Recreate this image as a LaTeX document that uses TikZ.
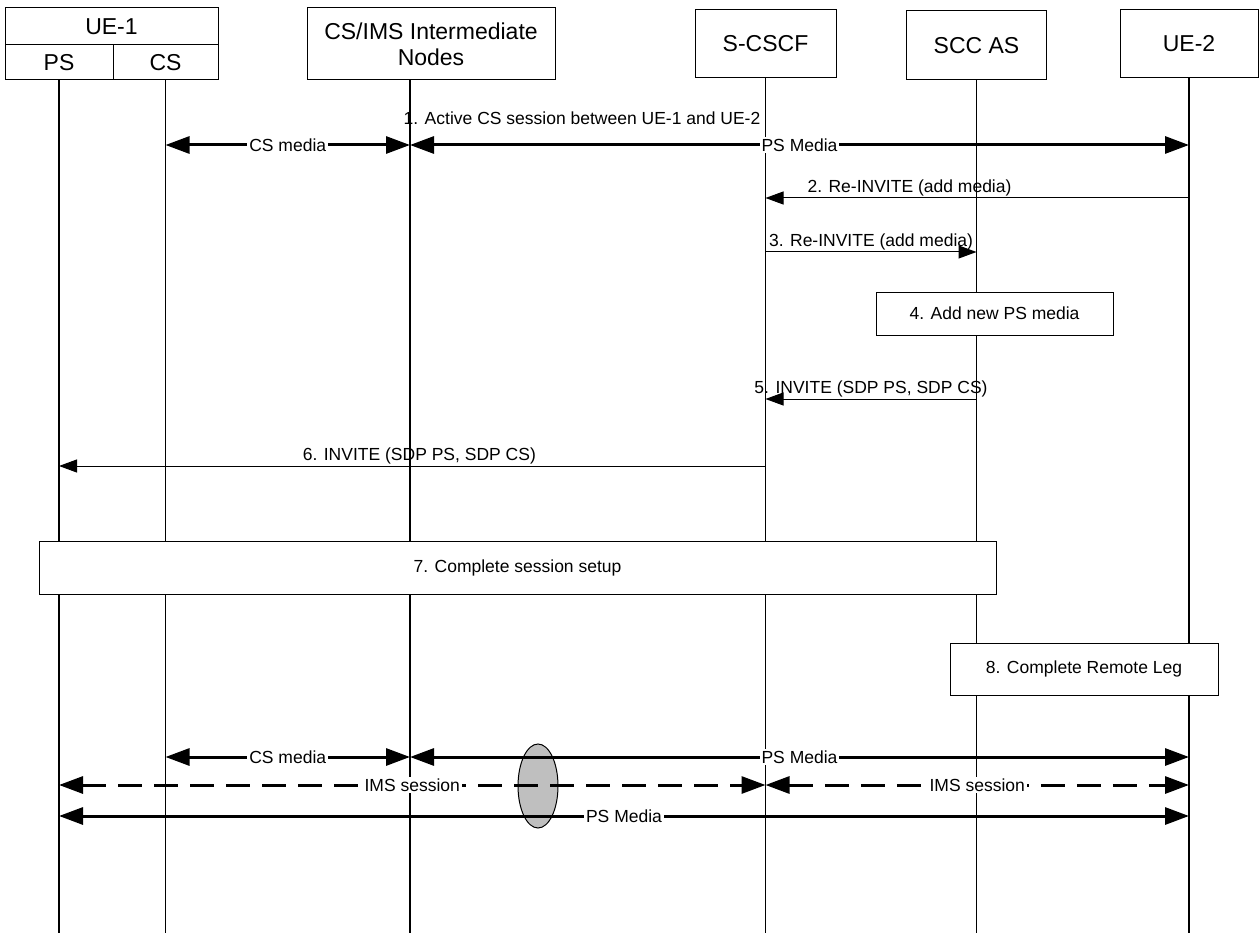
\documentclass[tikz,border=0pt]{standalone}
\usepackage{fontspec}
\setmainfont{Liberation Sans}
\usetikzlibrary{arrows.meta,shapes.geometric}
\begin{document}
\begin{tikzpicture}[x=1pt,y=-1pt,
 hdr/.style={draw, line width=1pt, font=\fontsize{23}{26}\selectfont, inner sep=0pt, align=center},
 box/.style={draw, fill=white, line width=1pt, font=\fontsize{17.5}{20}\selectfont, inner sep=0pt},
 life/.style={line width=1.2pt},
 media/.style={line width=3pt, {Triangle[length=24pt,width=17pt]}-{Triangle[length=24pt,width=17pt]}},
 imsline/.style={media, dash pattern=on 24pt off 12pt},
 msg/.style={line width=1pt, -{Triangle[length=18pt,width=13pt]}},
 lbl/.style={font=\fontsize{17.5}{20}\selectfont, inner sep=1pt},
 mlbl/.style={lbl, fill=white, inner sep=2pt},
]
\useasboundingbox[fill=white] (0,0) rectangle (1260,933);

% headers
\node[hdr, minimum width=213pt, minimum height=37pt] (ue1) at (111.5,26.5) {UE-1};
\node[hdr, minimum width=108pt, minimum height=35pt] (ue1ps) at (59,62.5) {PS};
\node[hdr, minimum width=105pt, minimum height=35pt] (ue1cs) at (165.5,62.5) {CS};
\node[hdr, minimum width=248pt, minimum height=72pt] (im) at (431,44) {CS/IMS Intermediate\\Nodes};
\node[hdr, minimum width=141pt, minimum height=68pt] (sc) at (765.5,44) {S-CSCF};
\node[hdr, minimum width=140pt, minimum height=69pt] (as) at (976.5,45.5) {SCC AS};
\node[hdr, minimum width=138pt, minimum height=68pt] (ue2) at (1189,44) {UE-2};
\coordinate (iml) at (410,80);

% levels
\coordinate (bot) at (0,933);
\coordinate (y1) at (0,145);
\coordinate (y2) at (0,198);
\coordinate (y3) at (0,252);
\coordinate (y5) at (0,399);
\coordinate (y6) at (0,466);
\coordinate (b1) at (0,757);
\coordinate (b2) at (0,785);
\coordinate (b3) at (0,816);

% lifelines
\foreach \n in {ue1ps.south,ue1cs.south,iml,sc.south,as.south,ue2.south}
  \draw[life] (\n) -- (\n |- bot);

% step 1
\node[lbl] (t1) at (582,118) {1. Active CS session between UE-1 and UE-2};
\draw[media] (ue1cs.south |- y1) -- node[mlbl] {CS media} (iml |- y1);
\draw[media] (iml |- y1) -- node[mlbl] {PS Media} (ue2.south |- y1);

% step 2,3
\draw[msg] (ue2.south |- y2) -- node[lbl, pos=0.66, anchor=south] {2. Re-INVITE (add media)} (sc.south |- y2);
\draw[msg] (sc.south |- y3) -- node[lbl, midway, anchor=south] {3. Re-INVITE (add media)} (as.south |- y3);

% step 4
\node[box, minimum width=237pt, minimum height=43pt] (s4) at (994.5,313.5) {4. Add new PS media};

% step 5,6
\draw[msg] (as.south |- y5) -- node[lbl, midway, anchor=south] {5. INVITE (SDP PS, SDP CS)} (sc.south |- y5);
\draw[msg] (sc.south |- y6) -- node[lbl, pos=0.49, anchor=south] {6. INVITE (SDP PS, SDP CS)} (ue1ps.south |- y6);

% step 7, 8
\node[box, minimum width=957pt, minimum height=53pt] (s7) at (517.5,567.5) {7. Complete session setup};
\node[box, minimum width=268pt, minimum height=52pt] (s8) at (1084,669) {8. Complete Remote Leg};

% final state
\node[draw, fill=black!25, line width=1pt, ellipse, minimum width=40pt, minimum height=84pt, inner sep=0pt] (ov) at (538,786) {};
\draw[media] (ue1cs.south |- b1) -- node[mlbl] {CS media} (iml |- b1);
\draw[media] (iml |- b1) -- node[mlbl] {PS Media} (ue2.south |- b1);
\draw[imsline] (ue1ps.south |- b2) -- node[mlbl] {IMS session} (sc.south |- b2);
\draw[imsline] (sc.south |- b2) -- node[mlbl] {IMS session} (ue2.south |- b2);
\draw[media] (ue1ps.south |- b3) -- node[mlbl] {PS Media} (ue2.south |- b3);
\end{tikzpicture}
\end{document}
